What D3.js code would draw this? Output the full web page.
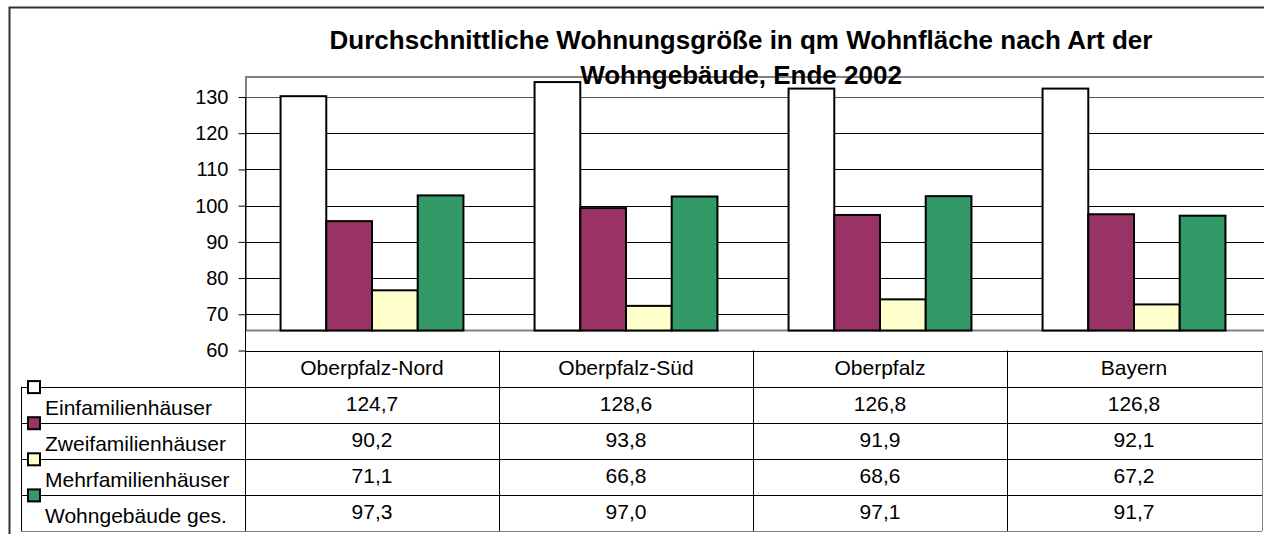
<!DOCTYPE html>
<head>
  <meta charset="utf-8">
  <script src="https://d3js.org/d3.v7.min.js"></script>
  <style>
    body { margin: 0; background: #fff; }
    text { font-family: "Liberation Sans", Arial, sans-serif; fill: #000; }
  </style>
</head>
<body>
  <svg width="1264" height="534"></svg>
  <script>
    var categories = ["Oberpfalz-Nord", "Oberpfalz-Süd", "Oberpfalz", "Bayern"];
    var seriesNames = ["Einfamilienhäuser", "Zweifamilienhäuser", "Mehrfamilienhäuser", "Wohngebäude ges."];
    var einfamilien = [124.7, 128.6, 126.8, 126.8];
    var zweifamilien = [90.2, 93.8, 91.9, 92.1];
    var mehrfamilien = [71.1, 66.8, 68.6, 67.2];
    var wohngebaeude = [97.3, 97.0, 97.1, 91.7];
    var yTicks = [60, 70, 80, 90, 100, 110, 120, 130];
    var titleLines = ["Durchschnittliche Wohnungsgröße in qm Wohnfläche nach Art der", "Wohngebäude, Ende 2002"];

    var seriesValues = [einfamilien, zweifamilien, mehrfamilien, wohngebaeude];
    var colors = ["#ffffff", "#993366", "#ffffcc", "#339966"];

    var de = d3.formatLocale({ decimal: ",", thousands: ".", grouping: [3], currency: ["", " €"] });
    var fmt = de.format(".1f");

    var svg = d3.select("svg");
    var depth = 20; // offset of the back wall (3d look)

    var x0 = d3.scaleBand().domain(categories).range([245, 1261]);
    var bw = x0.bandwidth();
    var x1 = d3.scaleBand().domain(seriesNames).range([bw * 0.14, bw * 0.86]);
    var y = d3.scaleLinear().domain([60, 130]).range([350.5, 97]);

    // outer chart border
    svg.append("path")
      .attr("d", "M9.5,534V7.5H1264")
      .attr("fill", "none")
      .attr("stroke", "#333")
      .attr("stroke-width", 2);

    // back wall
    svg.append("rect")
      .attr("x", 246)
      .attr("y", y(130) - depth)
      .attr("width", 1280 - 246)
      .attr("height", y(60) - y(130))
      .attr("fill", "none")
      .attr("stroke", "#808080")
      .attr("stroke-width", 2);

    // gridlines
    svg.append("g")
      .selectAll("line")
      .data(yTicks.filter(function (d) { return d > 60; }))
      .enter().append("line")
      .attr("x1", 245).attr("x2", 1264)
      .attr("y1", function (d) { return Math.round(y(d)) + 0.5; })
      .attr("y2", function (d) { return Math.round(y(d)) + 0.5; })
      .attr("stroke", function (d) { return d === 130 ? "#555" : "#000"; })
      .attr("stroke-width", 1);

    // title
    svg.append("g")
      .selectAll("text")
      .data(titleLines)
      .enter().append("text")
      .attr("x", 741)
      .attr("y", function (d, i) { return 49 + i * 35; })
      .attr("text-anchor", "middle")
      .attr("font-weight", "bold")
      .attr("font-size", "26px")
      .text(function (d) { return d; });

    // bars
    var groups = svg.append("g")
      .selectAll("g")
      .data(categories)
      .enter().append("g")
      .attr("transform", function (d) { return "translate(" + x0(d) + ",0)"; });

    groups.selectAll("rect")
      .data(function (c, ci) {
        return seriesNames.map(function (s, si) { return { s: s, si: si, v: seriesValues[si][ci] }; });
      })
      .enter().append("rect")
      .attr("x", function (d) { return x1(d.s); })
      .attr("y", function (d) { return y(d.v) - depth; })
      .attr("width", x1.bandwidth())
      .attr("height", function (d) { return y(60) - y(d.v); })
      .attr("fill", function (d) { return colors[d.si]; })
      .attr("stroke", "#000")
      .attr("stroke-width", 2);

    // y axis
    var yAxis = d3.axisLeft(y).tickValues(yTicks).tickSize(7).tickPadding(10).tickSizeOuter(0);
    var ag = svg.append("g")
      .attr("transform", "translate(245.5,0)")
      .call(yAxis);
    ag.select(".domain").remove();
    ag.selectAll("text").attr("font-size", "20px").attr("font-family", "'Liberation Sans', Arial, sans-serif");
    ag.selectAll("line").attr("stroke", "#000");

    // data table
    var rowH = 36.1;
    var tTop = y(60);
    var tBottom = tTop + rowH * 5;
    var table = svg.append("g");

    function hline(x1p, x2p, yy, col) {
      table.append("line").attr("x1", x1p).attr("x2", x2p)
        .attr("y1", Math.round(yy) + 0.5).attr("y2", Math.round(yy) + 0.5)
        .attr("stroke", col || "#000").attr("stroke-width", 1);
    }
    function vline(xx, y1p, y2p, col) {
      table.append("line").attr("x1", Math.round(xx) + 0.5).attr("x2", Math.round(xx) + 0.5)
        .attr("y1", y1p).attr("y2", y2p)
        .attr("stroke", col || "#000").attr("stroke-width", 1);
    }

    hline(245, 1262, tTop);
    seriesNames.forEach(function (s, i) { hline(21, 1262, tTop + rowH * (i + 1)); });
    hline(21, 1262, tBottom, "#808080");
    vline(21, tTop + rowH, tBottom);
    vline(245, y(130), tBottom);
    categories.forEach(function (c, i) { if (i > 0) vline(x0(c), tTop, tBottom); });
    vline(1262, tTop, tBottom, "#808080");

    // header row
    table.selectAll("text.head")
      .data(categories)
      .enter().append("text")
      .attr("class", "head")
      .attr("x", function (d) { return x0(d) + bw / 2; })
      .attr("y", tTop + 24)
      .attr("text-anchor", "middle")
      .attr("font-size", "21px")
      .text(function (d) { return d; });

    // data rows
    seriesNames.forEach(function (s, si) {
      var rTop = tTop + rowH * (si + 1);
      table.selectAll("text.r" + si)
        .data(seriesValues[si])
        .enter().append("text")
        .attr("class", "r" + si)
        .attr("x", function (d, ci) { return x0(categories[ci]) + bw / 2; })
        .attr("y", rTop + 24.5)
        .attr("text-anchor", "middle")
        .attr("font-size", "21px")
        .text(function (d) { return fmt(d); });

      table.append("text")
        .attr("x", 45)
        .attr("y", rTop + 28)
        .attr("font-size", "21px")
        .text(s);

      table.append("rect")
        .attr("x", 28)
        .attr("y", rTop - 5.5)
        .attr("width", 12)
        .attr("height", 12)
        .attr("fill", colors[si])
        .attr("stroke", "#000")
        .attr("stroke-width", 2);
    });
  </script>
</body>
